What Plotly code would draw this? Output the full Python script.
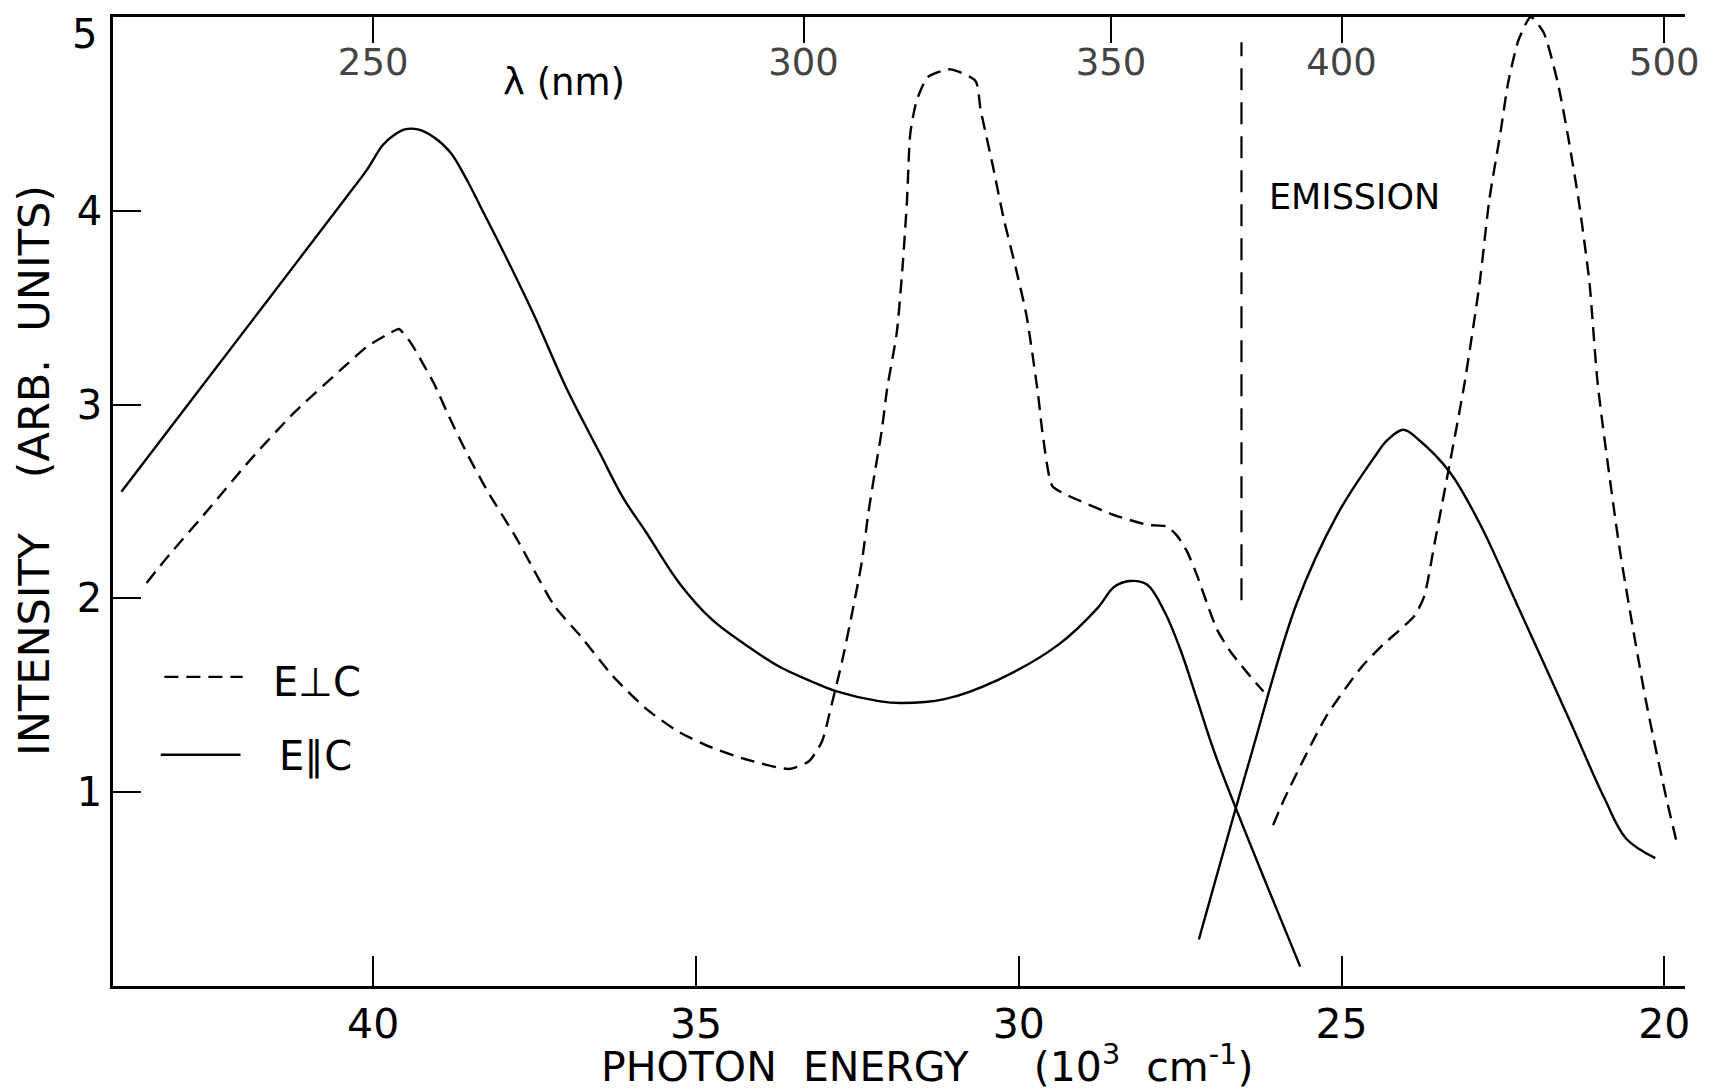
import plotly.graph_objects as go

# Photon energy in 10^3 cm^-1, intensity in arbitrary units.

# Absorption, E parallel to c (solid)
abs_par_energy = [43.90, 42.80, 41.63, 40.44, 40.10, 39.85, 39.68, 39.51, 39.31, 39.06,
                  38.80, 38.55, 38.29, 38.03, 37.52, 37.00, 36.49, 36.13, 35.77, 35.26,
                  34.75, 34.23, 33.72, 33.20, 32.82, 32.17, 31.82, 31.15, 30.32, 29.39,
                  28.78, 28.52, 28.27, 28.01, 27.74, 27.49, 27.24, 26.93, 25.64]
abs_par_intensity = [2.55, 3.03, 3.54, 4.06, 4.21, 4.34, 4.39, 4.42, 4.42, 4.38,
                     4.30, 4.16, 3.99, 3.82, 3.47, 3.08, 2.75, 2.52, 2.34, 2.08,
                     1.89, 1.76, 1.65, 1.57, 1.52, 1.47, 1.46, 1.48, 1.58, 1.76,
                     1.95, 2.06, 2.09, 2.07, 1.93, 1.73, 1.48, 1.17, 0.10]

# Absorption, E perpendicular to c (dashed)
abs_perp_energy = [43.51, 43.17, 42.55, 41.89, 41.22, 40.50, 40.09, 39.68, 39.60, 39.42,
                   39.21, 39.06, 38.80, 38.55, 38.24, 37.78, 37.19, 36.80, 36.29, 35.77,
                   35.26, 34.75, 34.23, 33.56, 33.25, 33.05, 32.90, 32.74, 32.59, 32.43,
                   32.33, 32.22, 32.12, 32.04, 31.89, 31.80, 31.73, 31.68, 31.58, 31.41,
                   31.06, 30.67, 30.59, 30.40, 30.24, 30.05, 29.88, 29.70, 29.63, 29.48,
                   29.23, 28.52, 28.01, 27.70, 27.54, 27.39, 27.24, 27.09, 26.93, 26.73,
                   26.47, 26.21]
abs_perp_intensity = [2.08, 2.22, 2.46, 2.72, 2.96, 3.18, 3.30, 3.38, 3.39, 3.32,
                      3.20, 3.11, 2.92, 2.75, 2.56, 2.31, 1.96, 1.81, 1.60, 1.43,
                      1.31, 1.23, 1.17, 1.12, 1.16, 1.26, 1.45, 1.67, 1.91, 2.19,
                      2.44, 2.67, 2.87, 3.08, 3.37, 3.71, 4.06, 4.40, 4.57, 4.69,
                      4.73, 4.67, 4.52, 4.23, 3.97, 3.71, 3.46, 3.05, 2.85, 2.58,
                      2.53, 2.43, 2.38, 2.37, 2.32, 2.24, 2.12, 1.98, 1.84, 1.73,
                      1.62, 1.52]

# Emission, E parallel to c (solid)
em_par_energy = [27.21, 26.42, 25.70, 25.07, 24.51, 24.28, 24.04, 23.81, 23.32, 22.85,
                 22.27, 21.48, 20.93, 20.59, 20.14]
em_par_intensity = [0.24, 1.17, 1.97, 2.43, 2.72, 2.82, 2.87, 2.82, 2.65, 2.38,
                    1.96, 1.38, 0.97, 0.76, 0.66]

# Emission, E perpendicular to c (dashed)
em_perp_energy = [26.06, 25.88, 25.24, 24.68, 24.36, 23.87, 23.72, 23.55, 23.35, 23.10,
                  22.86, 22.71, 22.54, 22.42, 22.26, 22.07, 21.87, 21.65, 21.50, 21.33,
                  21.16, 21.03, 20.69, 20.29, 19.97, 19.80]
em_perp_intensity = [0.83, 0.97, 1.39, 1.65, 1.76, 1.91, 2.01, 2.30, 2.65, 3.10,
                     3.63, 4.06, 4.40, 4.66, 4.88, 5.00, 4.92, 4.66, 4.40, 4.06,
                     3.63, 3.10, 2.25, 1.48, 0.97, 0.73]

# Divider between absorption and emission spectra
divider_energy = [26.55, 26.55]
divider_intensity = [1.99, 4.87]

energy_ticks = [40, 35, 30, 25, 20]
intensity_ticks = [1, 2, 3, 4, 5]
wavelength_ticks_nm = [250, 300, 350, 400, 500]

energy_range = [44.03, 19.68]
intensity_range = [0, 5]

FONT = "DejaVu Sans"
INK = "black"
CURVE_W = 2.4
AXIS_W = 2.6
DASH = "14px,8px"

fig = go.Figure()


def add_curve(x, y, dash, smoothing):
    fig.add_trace(go.Scatter(
        x=x, y=y, mode="lines",
        line=dict(color=INK, width=CURVE_W, dash=dash, shape="spline", smoothing=smoothing),
        showlegend=False, hoverinfo="skip",
    ))


add_curve(abs_par_energy, abs_par_intensity, "solid", 1.0)
add_curve(abs_perp_energy, abs_perp_intensity, DASH, 0.6)
add_curve(em_par_energy, em_par_intensity, "solid", 1.0)
add_curve(em_perp_energy, em_perp_intensity, DASH, 0.6)

fig.add_trace(go.Scatter(
    x=divider_energy, y=divider_intensity, mode="lines",
    line=dict(color=INK, width=2.2, dash="22px,12px"),
    showlegend=False, hoverinfo="skip",
))

# Wavelength scale along the top edge (lambda = 10^4 / E for E in 10^3 cm^-1)
wavelength_positions = [1e4 / w for w in wavelength_ticks_nm]
fig.add_trace(go.Scatter(
    x=wavelength_positions, y=[None] * len(wavelength_positions),
    xaxis="x2", mode="lines", showlegend=False, hoverinfo="skip",
))

# The top intensity label sits a little below its tick, drawn separately
y_ticktext = [str(v) if v != intensity_range[1] else "" for v in intensity_ticks]

fig.update_layout(
    width=1712, height=1091,
    margin=dict(l=113, r=22, t=17, b=105),
    paper_bgcolor="white", plot_bgcolor="white",
    font=dict(family=FONT, color=INK),
    showlegend=False,
    xaxis=dict(
        range=energy_range, tickvals=energy_ticks, ticktext=[str(v) for v in energy_ticks],
        ticks="inside", ticklen=30, tickwidth=2.2, tickcolor=INK,
        showline=True, linewidth=AXIS_W, linecolor=INK,
        showgrid=False, zeroline=False,
        tickfont=dict(size=41, family=FONT),
        ticklabelstandoff=0,
    ),
    xaxis2=dict(
        range=energy_range, overlaying="x", side="top",
        tickvals=wavelength_positions, ticktext=[str(w) for w in wavelength_ticks_nm],
        ticks="inside", ticklen=26, tickwidth=2.2, tickcolor=INK,
        ticklabelposition="inside", ticklabeloverflow="allow",
        ticklabelstandoff=11,
        showline=True, linewidth=AXIS_W, linecolor=INK,
        showgrid=False, zeroline=False,
        tickfont=dict(size=37, family=FONT),
    ),
    yaxis=dict(
        range=intensity_range, tickvals=intensity_ticks, ticktext=y_ticktext,
        ticks="inside", ticklen=28, tickwidth=2.2, tickcolor=INK,
        showline=True, linewidth=AXIS_W, linecolor=INK,
        showgrid=False, zeroline=False,
        tickfont=dict(size=40, family=FONT),
        ticklabelstandoff=0,
    ),
)

NB = "\u00a0"
annotations = [
    dict(text=f"PHOTON{NB}{NB}ENERGY{NB}{NB}{NB}{NB}{NB}(10<sup>3</sup>{NB}{NB}cm<sup>-1</sup>)",
         xref="paper", yref="paper", x=0.518, y=-0.081, xanchor="center", yanchor="middle",
         showarrow=False, font=dict(size=41, family=FONT)),
    dict(text=f"INTENSITY{NB}{NB}{NB}{NB}(ARB.{NB}{NB}UNITS)",
         xref="paper", yref="paper", x=-0.050, y=0.532, xanchor="center", yanchor="middle",
         textangle=-90, showarrow=False, font=dict(size=43, family=FONT)),
    dict(text=str(intensity_ticks[-1]), xref="paper", yref="y", x=0, y=4.91,
         xanchor="right", yanchor="middle", xshift=-14,
         showarrow=False, font=dict(size=40, family=FONT)),
    dict(text="λ (nm)", xref="x", yref="y", x=37.04, y=4.66, xanchor="center", yanchor="middle",
         showarrow=False, font=dict(size=37, family=FONT)),
    dict(text="EMISSION", xref="x", yref="y", x=26.16, y=4.07, xanchor="left", yanchor="middle",
         showarrow=False, font=dict(size=35, family=FONT)),
    dict(text="E\u22a5C", xref="paper", yref="paper", x=0.1007, y=0.314, xanchor="left", yanchor="middle",
         showarrow=False, font=dict(size=40, family=FONT)),
    dict(text="E\u2225C", xref="paper", yref="paper", x=0.1045, y=0.237, xanchor="left", yanchor="middle",
         showarrow=False, font=dict(size=40, family=FONT)),
]
fig.update_layout(annotations=annotations)

# Legend keys
fig.add_shape(type="line", xref="paper", yref="paper", x0=0.0327, x1=0.0825, y0=0.319, y1=0.319,
              line=dict(color=INK, width=CURVE_W, dash=DASH))
fig.add_shape(type="line", xref="paper", yref="paper", x0=0.0304, x1=0.0811, y0=0.2387, y1=0.2387,
              line=dict(color=INK, width=CURVE_W))

fig.write_html("out.html")
